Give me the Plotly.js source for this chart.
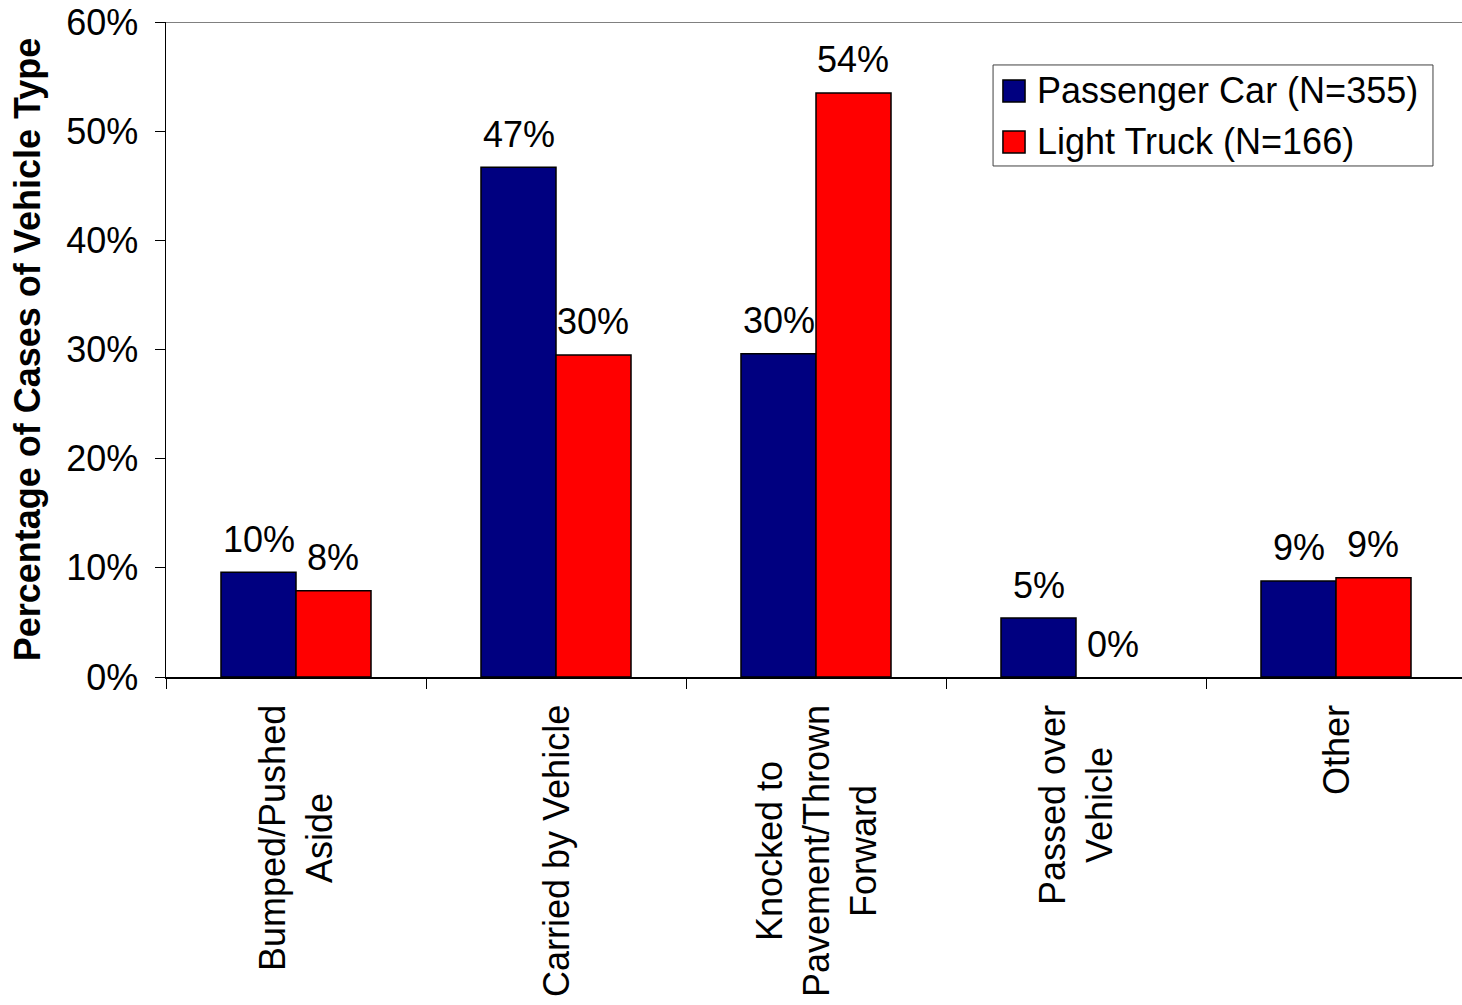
<!DOCTYPE html>
<html>
<head>
<meta charset="utf-8">
<script src="https://cdn.plot.ly/plotly-3.0.1.min.js"></script>
<style>
html,body{margin:0;padding:0;overflow:hidden;background:#fff;}
#chart{width:1466px;height:1005px;}
</style>
</head>
<body>
<div id="chart"></div>
<script>
var categories = ["Bumped/Pushed<br>Aside", "Carried by Vehicle", "Knocked to<br>Pavement/Thrown<br>Forward", "Passed over<br>Vehicle", "Other"];
var seriesNames = ["Passenger Car (N=355)", "Light Truck (N=166)"];
var seriesColors = ["#000080", "#FF0000"];
var passengerCar = [9.6, 46.7, 29.6, 5.4, 8.8];
var lightTruck = [7.9, 29.5, 53.5, 0, 9.1];
var passengerCarLabels = ["10%", "47%", "30%", "5%", "9%"];
var lightTruckLabels = ["8%", "30%", "54%", "0%", "9%"];
var yTickVals = [0, 10, 20, 30, 40, 50, 60];
var yTickText = ["0%", "10%", "20%", "30%", "40%", "50%", "60%"];

var FONT = "Liberation Sans, Arial, Helvetica, sans-serif";
var FS = 36;

function borderWidths(vals) { return vals.map(function (v) { return v > 0 ? 1.5 : 0; }); }

var traces = [
  {type: "bar", name: seriesNames[0], x: categories, y: passengerCar, showlegend: false,
   marker: {color: seriesColors[0], line: {color: "#000000", width: borderWidths(passengerCar)}}, hoverinfo: "none"},
  {type: "bar", name: seriesNames[1], x: categories, y: lightTruck, showlegend: false,
   marker: {color: seriesColors[1], line: {color: "#000000", width: borderWidths(lightTruck)}}, hoverinfo: "none"}
];

var annotations = [];
categories.forEach(function (c, i) {
  annotations.push({x: c, y: passengerCar[i], xref: "x", yref: "y", text: passengerCarLabels[i],
    showarrow: false, xanchor: "center", yanchor: "middle", xshift: -37, yshift: 33,
    font: {family: FONT, size: FS, color: "#000"}});
  annotations.push({x: c, y: lightTruck[i], xref: "x", yref: "y", text: lightTruckLabels[i],
    showarrow: false, xanchor: "center", yanchor: "middle", xshift: 37, yshift: 33,
    font: {family: FONT, size: FS, color: "#000"}});
  annotations.push({x: c, y: 0, xref: "x", yref: "paper", text: c, textangle: -90, align: "center",
    showarrow: false, xanchor: "center", yanchor: "top", yshift: -26,
    font: {family: FONT, size: FS, color: "#000"}});
});

// custom legend (box, swatches, labels) in paper coordinates
var shapes = [{type: "line", xref: "paper", yref: "y", x0: 0, x1: 1, y0: 60, y1: 60,
  line: {color: "#808080", width: 2}}];
shapes.push({type: "rect", xref: "paper", yref: "paper", x0: 0.6362, x1: 0.9746, y0: 0.7802, y1: 0.9344,
  fillcolor: "#fff", line: {color: "#404040", width: 1}, layer: "above"});
var legendRows = [0.8947, 0.8168];
seriesNames.forEach(function (n, k) {
  var yc = legendRows[k];
  shapes.push({type: "rect", xref: "paper", yref: "paper", x0: 0.6438, x1: 0.6608,
    y0: yc - 0.0168, y1: yc + 0.0168, fillcolor: seriesColors[k],
    line: {color: "#000", width: 1.5}, layer: "above"});
  annotations.push({xref: "paper", yref: "paper", x: 0.6685, y: yc, text: n, showarrow: false,
    xanchor: "left", yanchor: "middle", font: {family: FONT, size: FS, color: "#000"}});
});

var layout = {
  width: 1466, height: 1005,
  margin: {l: 166, r: 0, t: 22, b: 328},
  paper_bgcolor: "#fff", plot_bgcolor: "#fff",
  font: {family: FONT, size: FS, color: "#000"},
  barmode: "group", bargap: 0.423, bargroupgap: 0,
  showlegend: false,
  xaxis: {type: "category", showticklabels: false, ticks: "outside", tickson: "boundaries",
    ticklen: 10, tickcolor: "#000", tickwidth: 1, showline: true, linecolor: "#000", linewidth: 1.5,
    showgrid: false, zeroline: false, fixedrange: true},
  yaxis: {range: [0, 60], tickmode: "array", tickvals: yTickVals, ticktext: yTickText,
    ticks: "outside", ticklen: 10,
    tickcolor: "#000", tickwidth: 1, showline: true, linecolor: "#000", linewidth: 1.5,
    showgrid: false, zeroline: false, ticklabelstandoff: 9, fixedrange: true,
    tickfont: {family: FONT, size: FS, color: "#000"},
    title: {text: "<b>Percentage of Cases of Vehicle Type</b>", standoff: 14,
      font: {family: FONT, size: FS, color: "#000"}}},
  shapes: shapes,
  annotations: annotations
};

Plotly.newPlot("chart", traces, layout, {displayModeBar: false, staticPlot: true});
</script>
</body>
</html>
